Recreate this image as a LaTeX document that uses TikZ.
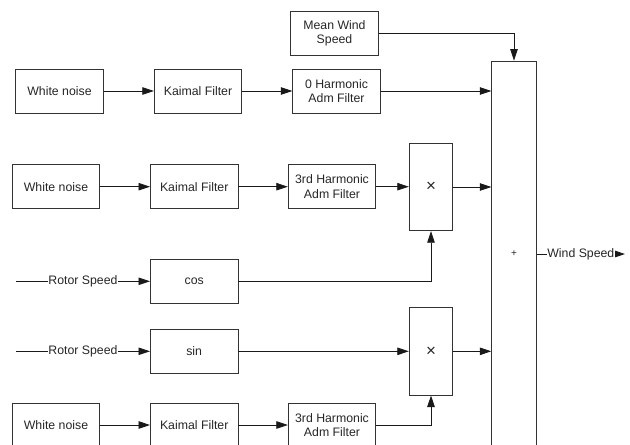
\documentclass[tikz,border=0pt]{standalone}
\usepackage{fontspec}
\setmainfont{Liberation Sans}
\usetikzlibrary{positioning, arrows.meta}

\begin{document}
\begin{tikzpicture}[
      x=1pt, y=-1pt,
      blk/.style={draw=black!80, line width=0.9pt, minimum width=87.5pt, minimum height=44pt,
          align=center, inner sep=1pt, font=\fontsize{12.3}{14.5}\selectfont, text=black!85},
      mult/.style={blk, minimum width=43.5pt, minimum height=87.5pt, font=\fontsize{17}{18}\selectfont},
      lbl/.style={fill=white, inner sep=0.5pt, font=\fontsize{12.3}{14.5}\selectfont, text=black!85},
      arr/.style={-{Triangle[length=11.5pt, width=7.5pt]}, line width=0.8pt, black!90},
    ]
    \useasboundingbox (0,0) rectangle (630,445);
    \clip (0,0) rectangle (630,445);

    % Summation block
    \node[blk, minimum width=44.5pt, minimum height=386pt] (sum) at (514,254) {};
    \node[font=\fontsize{10}{11}\selectfont, text=black!85] (plus) at (514,254) {+};

    % Mean wind speed
    \node[blk] (mean) at (334.5,33.5) {Mean Wind\\Speed};

    % Row 1: 0 harmonic
    \node[blk] (wn1) at (59.5,91) {White noise};
    \node[blk] (kf1) at (198,91) {Kaimal Filter};
    \node[blk] (hf1) at (336.5,91) {0 Harmonic\\Adm Filter};

    % Row 2: 3rd harmonic, cos
    \node[blk] (wn2) at (56,186.7) {White noise};
    \node[blk] (kf2) at (194.2,186.7) {Kaimal Filter};
    \node[blk] (hf2) at (332,186.7) {3rd Harmonic\\Adm Filter};
    \node[mult] (mx1) at (431,187) {×};
    \node[blk] (cos) at (194.2,281.3) {cos};
    \coordinate (rs1) at (16,281.3);

    % Row 3: 3rd harmonic, sin
    \node[blk] (sin) at (194.2,351.3) {sin};
    \coordinate (rs2) at (16,351.3);
    \node[mult] (mx2) at (431,351.3) {×};
    \node[blk] (wn3) at (56,425) {White noise};
    \node[blk] (kf3) at (194.2,425) {Kaimal Filter};
    \node[blk] (hf3) at (332,425) {3rd Harmonic\\Adm Filter};

    % Output
    \coordinate (out) at (625,254);

    % Connections
    \draw[arr] (mean.east) -| (sum.north);
    \draw[arr] (wn1) -- (kf1);
    \draw[arr] (kf1) -- (hf1);
    \draw[arr] (hf1.east) -- (hf1.east -| sum.west);

    \draw[arr] (wn2) -- (kf2);
    \draw[arr] (kf2) -- (hf2);
    \draw[arr] (hf2.east) -- (hf2.east -| mx1.west);
    \draw[arr] (mx1.east) -- (mx1.east -| sum.west);
    \draw[arr] (rs1) -- node[lbl] {Rotor Speed} (cos.west);
    \draw[arr] (cos.east) -| (mx1.south);

    \draw[arr] (rs2) -- node[lbl] {Rotor Speed} (sin.west);
    \draw[arr] (sin.east) -- (sin.east -| mx2.west);
    \draw[arr] (mx2.east) -- (mx2.east -| sum.west);
    \draw[arr] (wn3) -- (kf3);
    \draw[arr] (kf3) -- (hf3);
    \draw[arr] (hf3.east) -| (mx2.south);

    \draw[arr] (sum.east) -- node[lbl] {Wind Speed} (out);
\end{tikzpicture}
\end{document}
